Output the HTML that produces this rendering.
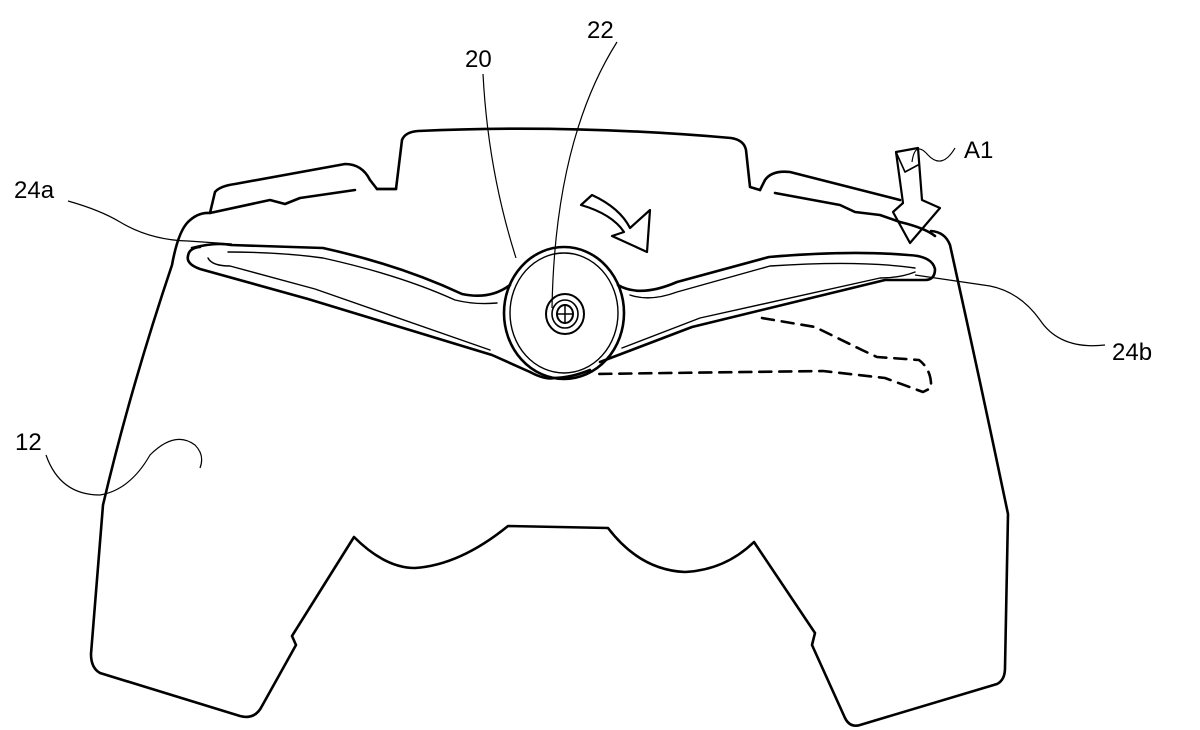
<!DOCTYPE html>
<html><head><meta charset="utf-8"><style>
html,body{margin:0;padding:0;background:#fff;width:1200px;height:730px;overflow:hidden}
svg{display:block}
text{font-family:"Liberation Sans",sans-serif;font-size:24px;fill:#000}
</style></head><body>
<svg width="1200" height="730" viewBox="0 0 1200 730" xmlns="http://www.w3.org/2000/svg">
<g fill="none" stroke="#000" stroke-width="2.6" stroke-linejoin="round" stroke-linecap="round">
<path d="M377,189 L396,189 L402,140 Q405,132 418,131 Q570,124 731,138 Q744,140 746,150 L750,187 L760,190"/>
<path d="M188,222 Q198,212 210,213 L215,192 Q220,186 235,184 L345,164 Q362,164 370,180 L377,189 L396,189"/>
<path d="M210,213 L270,200 L285,204 L300,198 L355,190"/>
<path d="M760,190 L765,180 Q772,170 790,172 L900,200"/>
<path d="M775,193 L840,205 L855,212 L880,215 L900,222 Q925,228 935,236"/>
<path d="M188,222 Q178,232 172,265 Q130,390 103,505 L91,654 Q91,668 100,673 L240,716 Q255,720 262,706 L296,645 L292,636 L354,537 Q385,568 415,568 Q460,565 508,526 L608,528 Q640,570 685,572 Q725,570 754,542 L815,633 L812,645 L845,718 Q850,728 860,725 L997,684 Q1005,680 1005,668 L1008,514 Q980,380 950,245 Q945,232 931,231"/>
<path d="M192,248 Q215,242 231,245 L323,248 Q400,265 462,294 Q490,300 510,285"/>
<path d="M618,285 Q640,298 677,282 L769,257 Q850,250 908,255 Q932,256 935,269 Q935,280 925,280 L885,280 L692,327 L600,362"/>
<path d="M530,372 L492,355 L308,299 L200,269 Q186,264 188,256 Q189,248 200,247"/>
<path d="M530,372 Q545,380 554,378 Q570,378 590,370"/>
<path d="M228,252 Q280,252 323,258 Q400,275 455,300 Q475,305 497,303" stroke-width="1.4"/>
<path d="M630,295 Q650,302 677,292 L770,266 Q860,260 915,268" stroke-width="1.4"/>
<path d="M208,258 Q212,266 230,266 L315,289 L490,350" stroke-width="1.4"/>
<path d="M915,272 Q900,278 880,278 L700,318 L622,348" stroke-width="1.4"/>
<ellipse cx="564" cy="313" rx="60" ry="66"/>
<ellipse cx="564" cy="313" rx="54" ry="60" stroke-width="1.4"/>
<ellipse cx="565" cy="314" rx="19" ry="20" stroke-width="2"/>
<ellipse cx="565" cy="314" rx="13" ry="14" stroke-width="1.6"/>
<ellipse cx="565" cy="314" rx="8" ry="9" stroke-width="2"/>
<path d="M557,314 L573,314 M565,305 L565,323" stroke-width="1.5"/>
<path d="M762,318 L815,327 L862,350 L877,357 L919,360 Q932,370 931,388 L923,392 L885,378 L823,371 L592,374" stroke-dasharray="12,8"/>
<path d="M581,205 L592,195 Q620,208 630,228 L650,210 L647,252 L612,236 L624,232 Q612,214 581,205 Z" stroke-width="2.2"/>
<path d="M896,152 L918,148 L922,200 L940,208 L910,243 L893,212 L903,203 Z" stroke-width="2.2"/>
<path d="M896,152 L905,172 L918,165" stroke-width="1.6"/>
</g>
<g fill="none" stroke="#000" stroke-width="1.2">
<path d="M483,74 Q488,170 516,258"/>
<path d="M617,42 Q555,140 552,308"/>
<path d="M68,201 Q100,210 120,222 Q150,240 188,241 L232,244"/>
<path d="M955,148 Q942,170 928,155 Q915,140 912,162"/>
<path d="M1105,345 Q1060,350 1040,320 Q1020,292 990,286 L915,275"/>
<path d="M46,455 Q60,495 100,495 Q130,490 150,455 Q175,430 195,445 Q205,455 200,468"/>
</g>
<text x="465" y="67">20</text>
<text x="587" y="38">22</text>
<text x="14" y="198">24a</text>
<text x="964" y="158">A1</text>
<text x="1112" y="360">24b</text>
<text x="15" y="450">12</text>
</svg>
</body></html>
